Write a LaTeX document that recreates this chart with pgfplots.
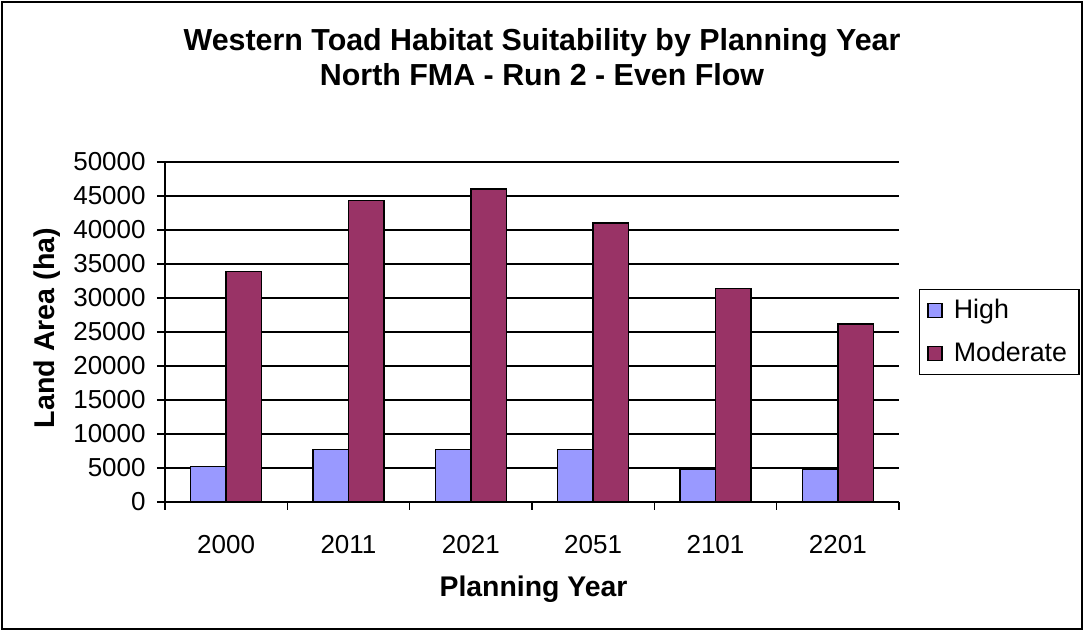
\documentclass[border=0pt]{standalone}
\usepackage{fontspec}
\setmainfont{Liberation Sans}
\usepackage{pgfplots}
\pgfplotsset{compat=1.18}
\definecolor{highc}{HTML}{9999FF}
\definecolor{modc}{HTML}{993366}
\begin{document}
\begin{tikzpicture}
\useasboundingbox (0,0) rectangle (542pt,315.5pt);
\draw[line width=0.8pt] (1pt,1pt) rectangle (541pt,314.5pt);
% titles and axis labels
\node[anchor=base, font=\fontsize{15.2}{17}\selectfont\bfseries] at (271pt,290.2pt) {Western Toad Habitat Suitability by Planning Year};
\node[anchor=base, font=\fontsize{15.2}{17}\selectfont\bfseries] at (271pt,272.6pt) {North FMA - Run 2 - Even Flow};
\node[anchor=base, font=\fontsize{14.2}{16}\selectfont\bfseries] at (266.75pt,17pt) {Planning Year};
\node[anchor=base, rotate=90, font=\fontsize{14.3}{16}\selectfont\bfseries] at (27.5pt,151.5pt) {Land Area (ha)};
\begin{axis}[
    at={(82.5pt,64.5pt)}, anchor=south west,
    scale only axis,
    width=367pt, height=170pt,
    ybar=0pt, bar width=17.75pt,
    xmin=-0.5, xmax=5.5,
    ymin=0, ymax=50000,
    axis x line=bottom, axis y line=left,
    axis line style={-, line width=0.6pt},
    xtick={-0.5,0.5,...,5.5}, xticklabels={},
    extra x ticks={0,1,2,3,4,5},
    extra x tick labels={2000,2011,2021,2051,2101,2201},
    extra x tick style={major tick length=0pt},
    ytick={0,5000,...,50000},
    scaled y ticks=false,
    ymajorgrids,
    grid style={black, line width=0.6pt},
    tick align=outside, major tick length=4pt,
    tick style={black, line width=0.6pt},
    /pgf/number format/assume math mode=true,
    /pgf/number format/set thousands separator={},
    ticklabel style={font=\fontsize{13}{15}\selectfont},
    xticklabel style={anchor=base, yshift=-26pt},
    yticklabel style={anchor=east, inner sep=0pt, xshift=-5.5pt},
    legend style={at={(1.027,0.5)}, anchor=west, draw=black, line width=0.6pt,
        font=\fontsize{13.4}{15}\selectfont, row sep=6pt, inner xsep=4pt, inner ysep=3pt},
    legend cell align=left,
]
\addplot[fill=highc, draw=black, line width=0.7pt,
    legend image code/.code={\draw[fill=highc, draw=black, line width=0.7pt] (0pt,-3.5pt) rectangle (7pt,3.5pt); \path (10.5pt,0pt);}]
    coordinates {(0,5250) (1,7750) (2,7750) (3,7750) (4,4800) (5,4800)};
\addplot[fill=modc, draw=black, line width=0.7pt,
    legend image code/.code={\draw[fill=modc, draw=black, line width=0.7pt] (0pt,-3.5pt) rectangle (7pt,3.5pt); \path (10.5pt,0pt);}]
    coordinates {(0,33900) (1,44350) (2,46050) (3,41000) (4,31400) (5,26200)};
\legend{High,Moderate}
\end{axis}
\end{tikzpicture}
\end{document}
